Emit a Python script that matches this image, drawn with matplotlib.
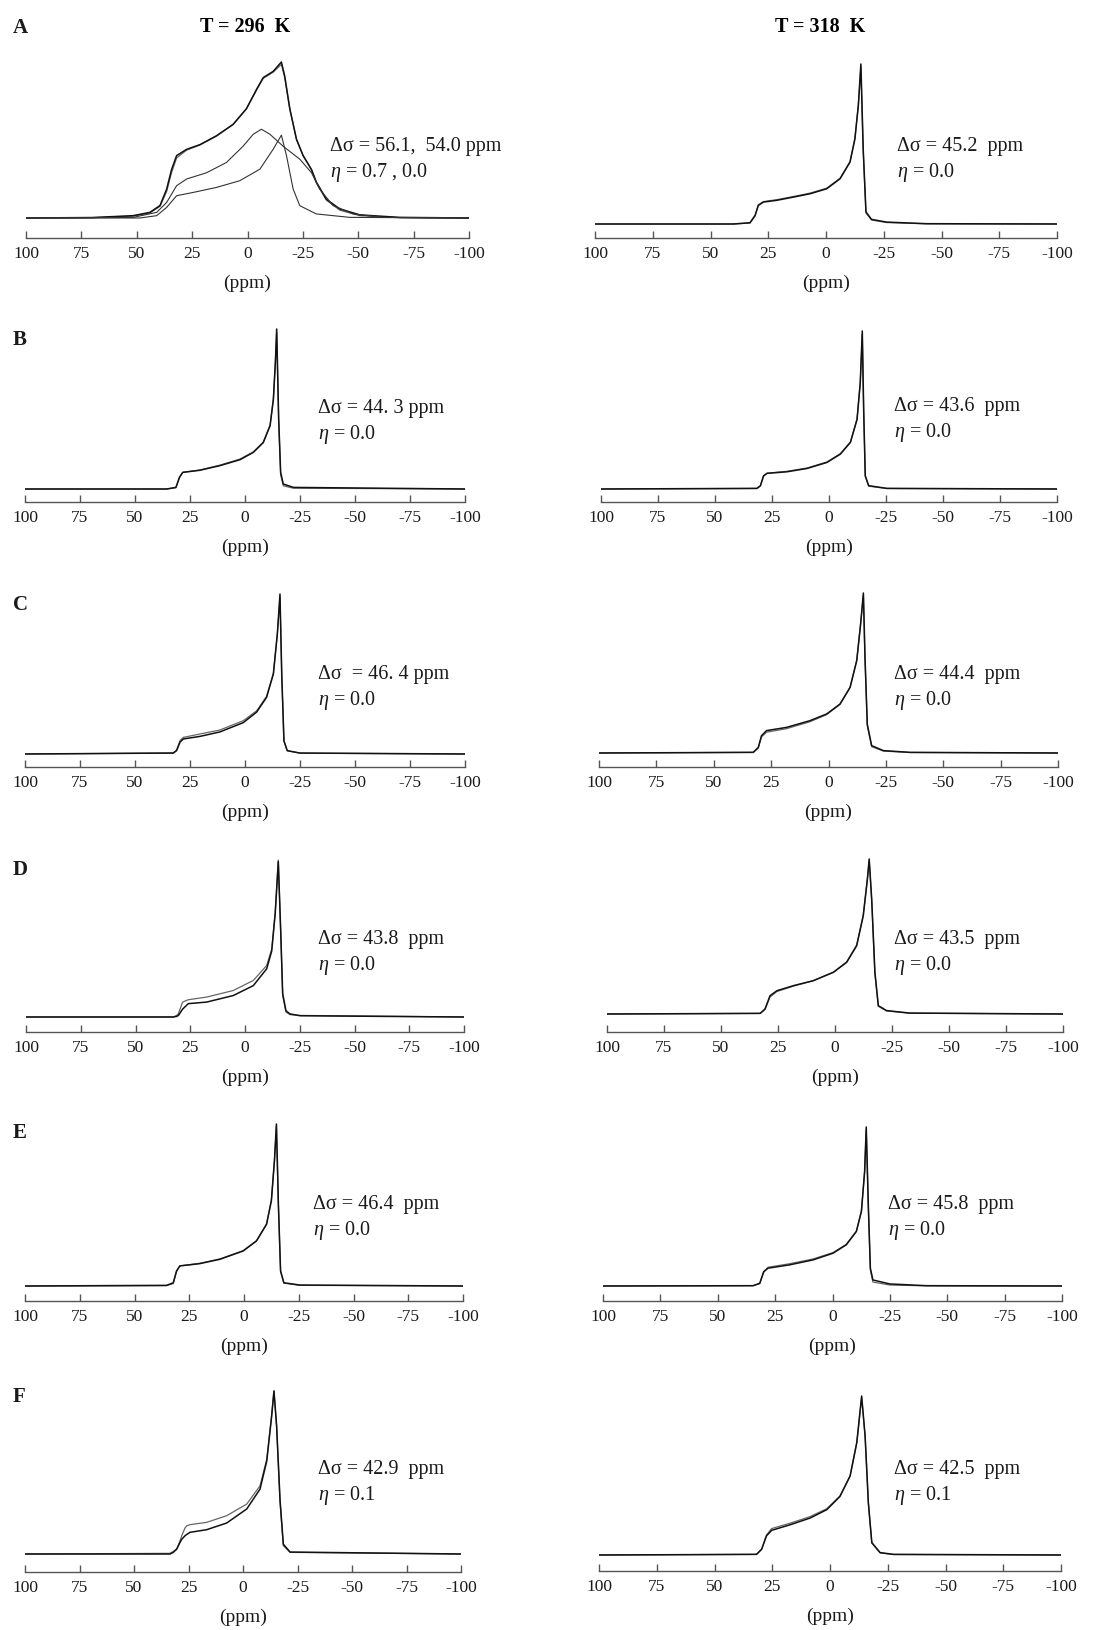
# 31P 静态谱图 A-F, 296 K / 318 K
import matplotlib
matplotlib.use('Agg')
import matplotlib.pyplot as plt

plt.rcParams['font.family'] = ['Liberation Serif', 'DejaVu Serif']
plt.rcParams['mathtext.fontset'] = 'custom'
plt.rcParams['mathtext.rm'] = 'Liberation Serif'
plt.rcParams['mathtext.it'] = 'Liberation Serif:italic'
plt.rcParams['axes.unicode_minus'] = False

W, H = 1098, 1631

# %%
# 数据 (ppm, 归一化强度)
A296_ppm = [100, 70, 51.6, 44.1, 39.5, 36.5, 34.3, 32.0, 27.5, 21.5, 14.0, 6.5, 0.5, -4.1, -7.1,
            -11.6, -15.3, -16.8, -19.1, -22.1, -25.1, -28.9, -31.1, -35.6, -41.7, -50.7, -68.7, -100]
A296_exp = [0, 0.003, 0.015, 0.036, 0.08, 0.185, 0.31, 0.40, 0.44, 0.47, 0.527, 0.60, 0.70, 0.825, 0.90,
            0.94, 1.0, 0.91, 0.70, 0.505, 0.40, 0.31, 0.23, 0.12, 0.058, 0.02, 0.004, 0]
A296_fit = [0, 0.002, 0.012, 0.032, 0.075, 0.17, 0.29, 0.385, 0.435, 0.468, 0.525, 0.60, 0.70, 0.82, 0.895,
            0.935, 0.985, 0.90, 0.70, 0.505, 0.40, 0.31, 0.225, 0.115, 0.05, 0.015, 0.002, 0]
A296_c1_ppm = [100, 51.6, 41.0, 36.5, 32.0, 27.5, 18.5, 9.5, 2.0, -2.6, -6.3, -10.1, -16.1, -23.6,
               -28.9, -32.6, -38.6, -47.7, -61.2, -100]
A296_c1 = [0, 0.004, 0.036, 0.10, 0.207, 0.25, 0.29, 0.356, 0.46, 0.537, 0.569, 0.537, 0.46, 0.377,
           0.29, 0.185, 0.08, 0.026, 0.004, 0]
A296_c2_ppm = [100, 48.6, 41.0, 36.5, 32.0, 24.5, 14.0, 3.5, -5.6, -11.6, -15.3, -17.6, -20.6, -23.6,
               -31.1, -46.2, -100]
A296_c2 = [0, 0, 0.015, 0.068, 0.143, 0.164, 0.196, 0.239, 0.313, 0.441, 0.531, 0.40, 0.186, 0.079,
           0.026, 0.004, 0]

A318_ppm = [100, 40.1, 32.9, 30.7, 29.3, 27.1, 21.3, 14.1, 6.9, -0.3, -6.1, -10.4, -12.5, -14.0, -15.1,
            -16.1, -17.3, -19.7, -26.2, -43.5, -100]
A318_exp = [0, 0, 0.008, 0.054, 0.116, 0.137, 0.148, 0.168, 0.189, 0.22, 0.283, 0.387, 0.53, 0.74, 1.0,
            0.47, 0.075, 0.029, 0.012, 0.002, 0]
A318_fit = [0, 0, 0.006, 0.05, 0.12, 0.14, 0.152, 0.172, 0.193, 0.224, 0.286, 0.39, 0.535, 0.745, 0.98,
            0.46, 0.07, 0.025, 0.009, 0.001, 0]

B296_ppm = [100, 35.6, 31.4, 29.8, 28.3, 20.5, 11.4, 2.3, -3.8, -8.3, -11.4, -12.9, -13.8, -14.4,
            -15.3, -16.2, -17.4, -22.0, -100]
B296_exp = [0, 0, 0.01, 0.073, 0.104, 0.117, 0.146, 0.183, 0.229, 0.29, 0.395, 0.56, 0.79, 1.0,
            0.44, 0.104, 0.031, 0.01, 0]
B296_fit = [0, 0, 0.008, 0.07, 0.104, 0.119, 0.149, 0.187, 0.232, 0.293, 0.40, 0.565, 0.79, 0.98,
            0.43, 0.09, 0.02, 0.005, 0]

B318_ppm = [100, 31.6, 30.1, 28.7, 27.2, 18.4, 9.6, 0.9, -5.0, -9.4, -12.3, -13.7, -14.6, -15.2,
            -15.9, -17.4, -25.4, -100]
B318_exp = [0, 0.004, 0.021, 0.084, 0.099, 0.109, 0.13, 0.168, 0.221, 0.295, 0.44, 0.67, 1.0, 0.505,
            0.084, 0.021, 0.004, 0]
B318_fit = [0, 0.003, 0.018, 0.08, 0.1, 0.112, 0.133, 0.171, 0.224, 0.298, 0.445, 0.67, 0.98, 0.5,
            0.08, 0.018, 0.003, 0]

C296_ppm = [100, 32.6, 31.1, 29.5, 28.0, 20.5, 11.4, 0.8, -5.3, -9.8, -12.9, -14.7, -15.9, -16.7,
            -17.7, -19.2, -25.0, -100]
C296_exp = [0, 0.006, 0.021, 0.075, 0.094, 0.11, 0.138, 0.196, 0.262, 0.354, 0.5, 0.75, 1.0, 0.5,
            0.083, 0.021, 0.006, 0]
C296_fit = [0, 0.006, 0.025, 0.085, 0.104, 0.125, 0.15, 0.208, 0.27, 0.36, 0.505, 0.75, 0.98, 0.49,
            0.08, 0.02, 0.005, 0]

C318_ppm = [100, 32.8, 30.6, 29.2, 27.0, 18.3, 8.1, 0.8, -5.0, -9.4, -12.3, -14.0, -15.2, -15.9,
            -16.9, -18.8, -23.9, -35.6, -100]
C318_exp = [0, 0.004, 0.035, 0.108, 0.14, 0.16, 0.202, 0.244, 0.306, 0.41, 0.577, 0.806, 1.0, 0.6,
            0.18, 0.046, 0.015, 0.004, 0]
C318_fit = [0, 0.004, 0.03, 0.10, 0.13, 0.152, 0.195, 0.24, 0.303, 0.41, 0.58, 0.81, 0.985, 0.59,
            0.17, 0.04, 0.012, 0.003, 0]

D296_ppm = [100, 32.7, 31.2, 30.4, 28.5, 25.9, 17.5, 5.3, -3.8, -9.9, -12.2, -13.8, -15.2, -16.3,
            -17.2, -18.7, -20.5, -25.1, -100]
D296_exp = [0, 0, 0.004, 0.01, 0.05, 0.085, 0.095, 0.137, 0.20, 0.307, 0.42, 0.66, 0.99, 0.55,
            0.15, 0.04, 0.02, 0.008, 0]
D296_fit = [0, 0, 0.01, 0.021, 0.095, 0.11, 0.127, 0.169, 0.233, 0.328, 0.433, 0.666, 1.0, 0.54,
            0.137, 0.032, 0.015, 0.01, 0]

D318_ppm = [100, 32.8, 30.7, 28.5, 25.5, 18.2, 9.5, 0.7, -5.1, -9.5, -12.4, -14.2, -15.0, -16.1,
            -17.5, -19.0, -22.6, -32.8, -100]
D318_exp = [0, 0.004, 0.032, 0.118, 0.15, 0.183, 0.215, 0.269, 0.333, 0.44, 0.634, 0.87, 1.0, 0.74,
            0.27, 0.054, 0.022, 0.006, 0]
D318_fit = [0, 0.004, 0.03, 0.11, 0.145, 0.18, 0.215, 0.27, 0.336, 0.445, 0.64, 0.87, 0.99, 0.73,
            0.26, 0.05, 0.02, 0.005, 0]

E296_ppm = [100, 35.4, 32.3, 30.8, 29.3, 20.2, 11.0, 0.4, -5.7, -10.3, -12.5, -13.9, -14.8, -15.7,
            -16.7, -18.2, -25.5, -100]
E296_exp = [0, 0.004, 0.02, 0.093, 0.124, 0.138, 0.165, 0.216, 0.278, 0.381, 0.526, 0.773, 1.0, 0.505,
            0.093, 0.02, 0.006, 0]
E296_fit = [0, 0.002, 0.015, 0.09, 0.124, 0.14, 0.167, 0.218, 0.28, 0.383, 0.53, 0.775, 0.985, 0.5,
            0.09, 0.018, 0.004, 0]

E318_ppm = [100, 34.6, 31.7, 30.0, 28.1, 18.7, 8.5, -0.2, -6.0, -10.4, -12.6, -14.0, -14.7, -15.6,
            -16.5, -17.6, -24.9, -40.9, -100]
E318_exp = [0, 0.002, 0.017, 0.09, 0.112, 0.133, 0.164, 0.206, 0.259, 0.343, 0.47, 0.72, 1.0, 0.51,
            0.112, 0.038, 0.013, 0.002, 0]
E318_fit = [0, 0.002, 0.015, 0.085, 0.118, 0.14, 0.17, 0.21, 0.262, 0.345, 0.47, 0.72, 0.985, 0.5,
            0.10, 0.025, 0.006, 0.001, 0]

F296_ppm = [100, 33.5, 32.0, 30.4, 28.9, 28.1, 26.6, 25.8, 24.3, 16.7, 7.5, -1.7, -7.8, -10.9,
            -13.1, -14.2, -15.4, -17.0, -18.5, -21.6, -100]
F296_exp = [0, 0, 0.01, 0.03, 0.071, 0.09, 0.112, 0.12, 0.133, 0.149, 0.19, 0.276, 0.398, 0.57,
            0.84, 1.0, 0.79, 0.33, 0.06, 0.012, 0]
F296_fit = [0, 0.004, 0.015, 0.031, 0.08, 0.112, 0.16, 0.173, 0.18, 0.194, 0.235, 0.306, 0.418, 0.582,
            0.847, 1.0, 0.786, 0.316, 0.051, 0.01, 0]

F318_ppm = [100, 31.8, 29.6, 27.5, 25.3, 17.3, 8.7, 1.4, -4.3, -8.7, -11.6, -13.7, -15.2, -16.6,
            -18.1, -21.7, -27.5, -100]
F318_exp = [0, 0.004, 0.036, 0.12, 0.155, 0.19, 0.232, 0.285, 0.368, 0.497, 0.707, 1.0, 0.748, 0.329,
            0.078, 0.015, 0.004, 0]
F318_fit = [0, 0.004, 0.036, 0.125, 0.166, 0.2, 0.241, 0.291, 0.371, 0.497, 0.707, 0.99, 0.745, 0.33,
            0.075, 0.013, 0.003, 0]

# 标注文字
dsig_296 = ['Δσ = 56.1,  54.0 ppm', 'Δσ = 44. 3 ppm', 'Δσ  = 46. 4 ppm',
            'Δσ = 43.8  ppm', 'Δσ = 46.4  ppm', 'Δσ = 42.9  ppm']
dsig_318 = ['Δσ = 45.2  ppm', 'Δσ = 43.6  ppm', 'Δσ = 44.4  ppm',
            'Δσ = 43.5  ppm', 'Δσ = 45.8  ppm', 'Δσ = 42.5  ppm']
eta_296 = ['0.7 , 0.0', '0.0', '0.0', '0.0', '0.0', '0.1']
eta_318 = ['0.0', '0.0', '0.0', '0.0', '0.0', '0.1']
letters = ['A', 'B', 'C', 'D', 'E', 'F']
ticks = [100, 75, 50, 25, 0, -25, -50, -75, -100]

spectra_296 = [(A296_ppm, A296_exp, A296_fit), (B296_ppm, B296_exp, B296_fit),
               (C296_ppm, C296_exp, C296_fit), (D296_ppm, D296_exp, D296_fit),
               (E296_ppm, E296_exp, E296_fit), (F296_ppm, F296_exp, F296_fit)]
spectra_318 = [(A318_ppm, A318_exp, A318_fit), (B318_ppm, B318_exp, B318_fit),
               (C318_ppm, C318_exp, C318_fit), (D318_ppm, D318_exp, D318_fit),
               (E318_ppm, E318_exp, E318_fit), (F318_ppm, F318_exp, F318_fit)]

# %%
# 版面 (像素): x0, x1, 轴线y, 基线y, 峰顶y
layout_296 = [(26, 469, 239, 219, 63), (25, 465, 503, 490, 330), (25, 465, 768, 755, 595),
              (26, 464, 1033, 1018, 861), (25, 463, 1302, 1287, 1125), (25, 461, 1573, 1555, 1392)]
layout_318 = [(595, 1057, 239, 225, 65), (601, 1057, 503, 490, 332), (599, 1058, 768, 754, 594),
              (607, 1063, 1033, 1015, 860), (603, 1062, 1302, 1287, 1128), (599, 1061, 1572, 1556, 1397)]
text_296 = [(330, 147), (318, 409), (318, 675), (318, 940), (313, 1205), (318, 1470)]
text_318 = [(897, 147), (894, 407), (894, 675), (894, 940), (888, 1205), (894, 1470)]
letter_y = [28, 340, 605, 870, 1133, 1397]

fig = plt.figure(figsize=(W / 100, H / 100), dpi=100)
fig.patch.set_facecolor('white')


def fx(px):
    return px / W


def fy(py):
    return 1 - py / H


def make_axes(box):
    x0, x1, ya, yb, yp = box
    top = yp - 4
    ax = fig.add_axes([fx(x0), fy(ya), (x1 - x0) / W, (ya - top) / H])
    span = yb - yp
    ax.set_ylim((yb - ya) / span, (yb - top) / span)
    ax.set_xlim(100, -100)
    for s in ['left', 'right', 'top']:
        ax.spines[s].set_visible(False)
    ax.spines['bottom'].set_color('#555555')
    ax.spines['bottom'].set_linewidth(1.0)
    ax.set_yticks([])
    ax.set_xticks(ticks)
    ax.set_xticklabels([str(t) for t in ticks])
    ax.tick_params(axis='x', direction='in', length=5, width=1.0, color='#555555',
                   labelsize=12.5, pad=5, labelcolor='#1a1a1a')
    ax.patch.set_alpha(0)
    # (ppm)
    fig.text(fx((x0 + x1) / 2), fy(ya + 44), '(ppm)', ha='center', va='center',
             fontsize=14, color='#1a1a1a')
    return ax


for i in range(6):
    for box, spec, txt, ds, et in [(layout_296[i], spectra_296[i], text_296[i], dsig_296[i], eta_296[i]),
                                   (layout_318[i], spectra_318[i], text_318[i], dsig_318[i], eta_318[i])]:
        ax = make_axes(box)
        ppm, exp_i, fit_i = spec
        ax.plot(ppm, fit_i, color='#666666', lw=0.9, solid_joinstyle='round')
        ax.plot(ppm, exp_i, color='#111111', lw=1.1, solid_joinstyle='round')
        if i == 0 and box is layout_296[0]:
            ax.plot(A296_c1_ppm, A296_c1, color='#333333', lw=0.8)
            ax.plot(A296_c2_ppm, A296_c2, color='#333333', lw=0.8)
        fig.text(fx(txt[0]), fy(txt[1]), ds, ha='left', va='center', fontsize=14.5, color='#1a1a1a')
        fig.text(fx(txt[0]), fy(txt[1] + 26), r'$\eta$ = ' + et, ha='left', va='center',
                 fontsize=14.5, color='#1a1a1a')
    fig.text(fx(13), fy(letter_y[i]), letters[i], ha='left', va='center', fontsize=15,
             fontweight='bold', color='#1a1a1a')

fig.text(fx(245), fy(27), 'T = 296  K', ha='center', va='center', fontsize=14.5, fontweight='bold')
fig.text(fx(820), fy(27), 'T = 318  K', ha='center', va='center', fontsize=14.5, fontweight='bold')

plt.savefig('out.png', dpi=100, facecolor='white')
